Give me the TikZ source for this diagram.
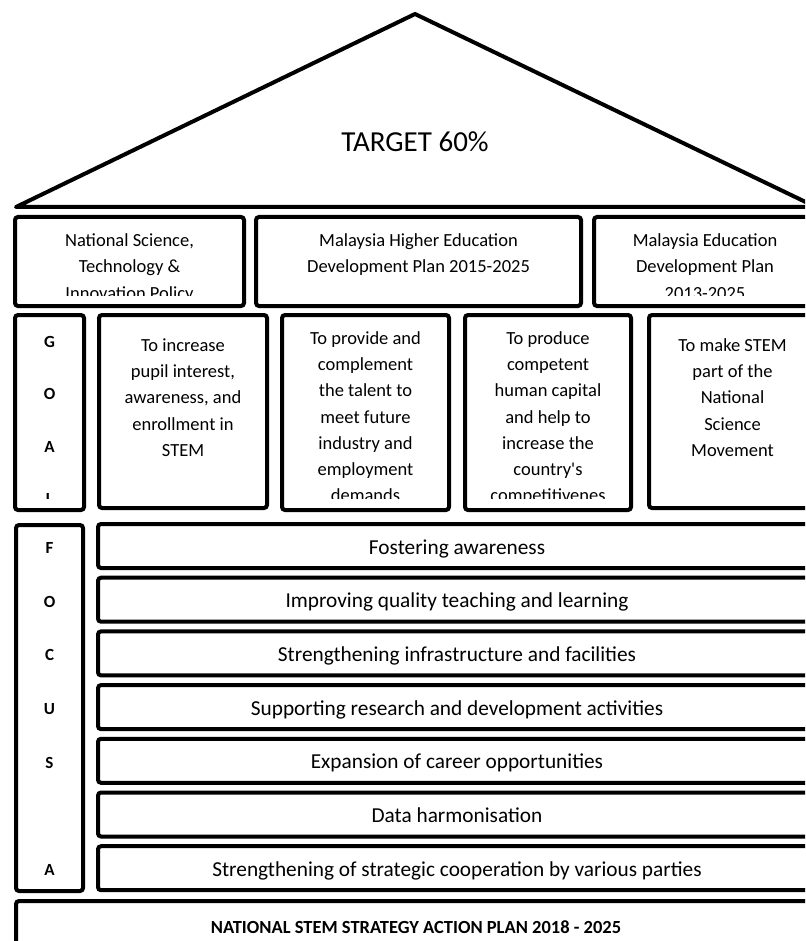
\documentclass[tikz,border=0pt]{standalone}
\usepackage{fontspec}
\setmainfont{Carlito}
\begin{document}
\begin{tikzpicture}[x=1pt,y=-1pt,
  box/.style={draw=black, line width=4pt, rounded corners=3pt, inner sep=0pt, outer sep=0pt},
  roofline/.style={draw=black, line width=4pt, line join=round},
  bodytext/.style={font=\fontsize{18.5}{26.2}\selectfont, align=center, inner sep=0pt, anchor=north},
  rowtext/.style={font=\fontsize{21.3}{26}\selectfont, inner sep=0pt, anchor=base},
  lettercol/.style={font=\fontsize{17}{52.4}\selectfont\bfseries, align=center, inner sep=0pt, anchor=north},
  focusletter/.style={font=\fontsize{17}{20}\selectfont\bfseries, inner sep=0pt, anchor=base},
]
\useasboundingbox (0,0) rectangle (805,941);
\clip (0,0) rectangle (805,941);

% roof
\draw[roofline] (16,207) -- (415,14) -- (816,207) -- cycle;
\node[font=\fontsize{29}{34}\selectfont, inner sep=0pt, anchor=base] (target) at (415,151.7) {TARGET 60\%};

% policy pillars
\node[box, minimum width=229, minimum height=89] (p1) at (129.5,261.5) {};
\node[box, minimum width=325, minimum height=89] (p2) at (418.5,261.5) {};
\node[box, minimum width=222, minimum height=89] (p3) at (705,261.5) {};
\begin{scope}
  \clip ([shift={(3,3)}]p1.north west) rectangle ([shift={(-3,-11)}]p1.south east);
  \node[bodytext] (p1t) at (129.5,228.2) {\strut National Science,\\Technology \&\\Innovation Policy};
\end{scope}
\node[bodytext] (p2t) at (418.5,228.2) {\strut Malaysia Higher Education\\Development Plan 2015-2025};
\begin{scope}
  \clip ([shift={(3,3)}]p3.north west) rectangle ([shift={(-3,-11)}]p3.south east);
  \node[bodytext] (p3t) at (705,228.2) {\strut Malaysia Education\\Development Plan\\2013-2025};
\end{scope}

% goals
\node[box, minimum width=69, minimum height=195] (gc) at (49.5,412.5) {};
\node[box, minimum width=168, minimum height=193] (g1) at (183,411.5) {};
\node[box, minimum width=167, minimum height=195] (g2) at (365.5,412.5) {};
\node[box, minimum width=166, minimum height=195] (g3) at (548,412.5) {};
\node[box, minimum width=167, minimum height=193] (g4) at (732.5,411.5) {};
\begin{scope}
  \clip (18,317) rectangle (82,498);
  \node[lettercol] (gct) at (49.5,310.5) {\strut G\\O\\A\\L};
\end{scope}
\node[bodytext] (g1t) at (183,333) {\strut To increase\\pupil interest,\\awareness, and\\enrollment in\\STEM};
\begin{scope}
  \clip ([shift={(3,3)}]g2.north west) rectangle ([shift={(-3,-12)}]g2.south east);
  \node[bodytext] (g2t) at (365.5,326) {\strut To provide and\\complement\\the talent to\\meet future\\industry and\\employment\\demands};
\end{scope}
\begin{scope}
  \clip ([shift={(3,3)}]g3.north west) rectangle ([shift={(-3,-12)}]g3.south east);
  \node[bodytext] (g3t) at (548,326) {\strut To produce\\competent\\human capital\\and help to\\increase the\\country\textquotesingle s\\competitivenes};
\end{scope}
\node[bodytext] (g4t) at (732.5,333) {\strut To make STEM\\part of the\\National\\Science\\Movement};

% focus areas
\node[box, minimum width=67, minimum height=366] (fc) at (49.5,708) {};
\foreach \txt [count=\i from 0] in {Fostering awareness,
    Improving quality teaching and learning,
    Strengthening infrastructure and facilities,
    Supporting research and development activities,
    Expansion of career opportunities,
    Data harmonisation,
    Strengthening of strategic cooperation by various parties}{
  \node[box, minimum width=718, minimum height=44] (r\i) at (457,{546+53.7*\i}) {};
  \node[rowtext] (r\i t) at (457,{554+53.7*\i}) {\txt};
}
\foreach \ltr/\i in {F/0,O/1,C/2,U/3,S/4,A/6}{
  \node[focusletter] (f\i) at (49.5,{553.5+53.7*\i}) {\ltr};
}

% foundation
\node[box, minimum width=800, minimum height=64] (base) at (416,933) {};
\node[font=\fontsize{18.5}{22}\selectfont\bfseries, inner sep=0pt, anchor=base] (baset) at (416,933) {NATIONAL STEM STRATEGY ACTION PLAN 2018 - 2025};
\end{tikzpicture}
\end{document}
